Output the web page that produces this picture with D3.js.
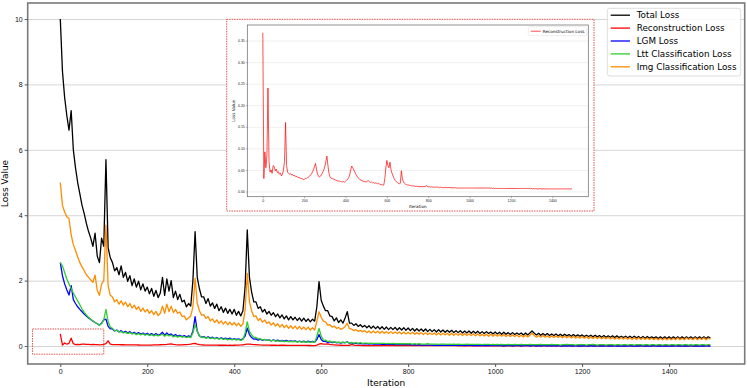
<!DOCTYPE html>
<html>
<head>
<meta charset="utf-8">
<script src="https://cdn.jsdelivr.net/npm/d3@7"></script>
<style>
  body { margin: 0; background: #fff; }
  svg { display: block; font-family: "DejaVu Sans", sans-serif; }
</style>
</head>
<body>
<svg id="chart" width="747" height="388"></svg>
<script>
// one value every 5 iterations, 0 .. 1495
var iterStep = 5;

var totalLoss = [
  10.0, 8.4, 7.6, 7.05, 6.6, 7.2, 6.0, 5.45, 5.0, 4.65, 4.3, 4.05, 3.75, 3.5, 3.3, 3.05, 3.45, 2.75, 2.55, 3.3,
  3.05, 5.7, 3.0, 2.7, 2.55, 2.3, 2.4, 2.18, 2.45, 2.1, 2.25, 1.98, 2.15, 1.85, 2.05, 1.8, 1.98, 1.72, 1.9, 1.68,
  1.8, 1.6, 1.76, 1.52, 1.7, 1.48, 1.62, 2.1, 1.55, 2.05, 1.68, 2.0, 1.48, 1.68, 1.42, 1.58, 1.35, 1.4, 1.2, 1.3,
  1.22, 2.0, 3.5, 2.1, 1.75, 1.5, 1.5, 1.3, 1.45, 1.22, 1.32, 1.15, 1.28, 1.08, 1.2, 1.03, 1.16, 1.0, 1.12, 0.98,
  1.12, 0.94, 1.06, 0.92, 1.08, 1.8, 3.55, 2.1, 1.65, 1.35, 1.35, 1.15, 1.2, 1.04, 1.12, 0.98, 1.06, 0.94, 1.02, 0.9,
  0.98, 0.86, 0.95, 0.83, 0.92, 0.8, 0.9, 0.8, 0.88, 0.78, 0.86, 0.76, 0.85, 0.75, 0.83, 0.74, 0.82, 0.76, 1.2, 1.97,
  1.4, 1.22, 1.08, 1.08, 0.92, 0.9, 0.77, 0.86, 0.72, 0.8, 0.7, 0.86, 1.05, 0.7, 0.7, 0.63, 0.68, 0.6, 0.65, 0.58,
  0.63, 0.56, 0.62, 0.54, 0.61, 0.53, 0.6, 0.52, 0.59, 0.51, 0.58, 0.5, 0.57, 0.5, 0.57, 0.49, 0.56, 0.49, 0.56, 0.48,
  0.55, 0.47, 0.54, 0.46, 0.53, 0.46, 0.52, 0.45, 0.52, 0.44, 0.51, 0.44, 0.5, 0.43, 0.5, 0.43, 0.49, 0.42, 0.48, 0.42,
  0.48, 0.41, 0.47, 0.41, 0.47, 0.4, 0.46, 0.4, 0.46, 0.39, 0.45, 0.39, 0.45, 0.38, 0.44, 0.38, 0.44, 0.38, 0.43, 0.37,
  0.43, 0.37, 0.42, 0.36, 0.42, 0.36, 0.41, 0.35, 0.41, 0.35, 0.4, 0.35, 0.4, 0.34, 0.4, 0.34, 0.4, 0.46, 0.39, 0.34,
  0.39, 0.33, 0.38, 0.33, 0.38, 0.32, 0.37, 0.32, 0.37, 0.31, 0.36, 0.31, 0.36, 0.31, 0.35, 0.3, 0.35, 0.3, 0.34, 0.3,
  0.34, 0.29, 0.33, 0.29, 0.33, 0.28, 0.33, 0.28, 0.32, 0.27, 0.32, 0.27, 0.31, 0.27, 0.31, 0.26, 0.31, 0.26, 0.3, 0.26,
  0.3, 0.25, 0.3, 0.25, 0.3, 0.25, 0.29, 0.24, 0.29, 0.24, 0.29, 0.24, 0.28, 0.24, 0.28, 0.23, 0.28, 0.23, 0.28, 0.23,
  0.28, 0.23, 0.28, 0.23, 0.28, 0.23, 0.28, 0.23, 0.28, 0.23, 0.28, 0.23, 0.28, 0.23, 0.28, 0.23, 0.28, 0.23, 0.28, 0.24
];

var reconLoss = [
  0.368, 0.03, 0.092, 0.055, 0.085, 0.24, 0.07, 0.045, 0.05, 0.042, 0.06, 0.058, 0.048, 0.052, 0.044, 0.046, 0.04, 0.043, 0.036, 0.04,
  0.05, 0.07, 0.16, 0.06, 0.045, 0.042, 0.04, 0.041, 0.038, 0.039, 0.036, 0.037, 0.034, 0.035, 0.032, 0.033, 0.031, 0.03, 0.03, 0.028,
  0.028, 0.03, 0.03, 0.032, 0.033, 0.035, 0.038, 0.04, 0.045, 0.05, 0.058, 0.065, 0.05, 0.04, 0.035, 0.034, 0.036, 0.04, 0.045, 0.05,
  0.058, 0.07, 0.082, 0.06, 0.042, 0.034, 0.031, 0.03, 0.029, 0.028, 0.027, 0.026, 0.025, 0.024, 0.024, 0.023, 0.023, 0.022, 0.023, 0.022,
  0.024, 0.026, 0.028, 0.032, 0.038, 0.05, 0.059, 0.055, 0.05, 0.045, 0.04, 0.036, 0.032, 0.03, 0.028, 0.026, 0.025, 0.024, 0.023, 0.023,
  0.022, 0.024, 0.025, 0.023, 0.021, 0.022, 0.02, 0.021, 0.019, 0.02, 0.019, 0.018, 0.019, 0.017, 0.016, 0.016, 0.015, 0.015, 0.03, 0.055,
  0.072, 0.06, 0.055, 0.068, 0.05, 0.042, 0.036, 0.03, 0.026, 0.023, 0.021, 0.019, 0.018, 0.019, 0.048, 0.03, 0.022, 0.019, 0.017, 0.016,
  0.015, 0.015, 0.014, 0.014, 0.013, 0.013, 0.013, 0.012, 0.012, 0.012, 0.012, 0.011, 0.011, 0.012, 0.011, 0.011, 0.012, 0.011, 0.014, 0.012,
  0.011, 0.011, 0.01, 0.011, 0.01, 0.01, 0.01, 0.01, 0.01, 0.01, 0.01, 0.009, 0.01, 0.009, 0.009, 0.009, 0.009, 0.009, 0.009, 0.009,
  0.009, 0.009, 0.009, 0.008, 0.009, 0.008, 0.009, 0.008, 0.008, 0.008, 0.008, 0.008, 0.008, 0.008, 0.008, 0.008, 0.008, 0.008, 0.008, 0.008,
  0.008, 0.008, 0.008, 0.008, 0.008, 0.008, 0.008, 0.008, 0.008, 0.008, 0.008, 0.008, 0.008, 0.008, 0.008, 0.008, 0.008, 0.008, 0.008, 0.008,
  0.008, 0.008, 0.007, 0.008, 0.007, 0.007, 0.007, 0.007, 0.007, 0.007, 0.007, 0.007, 0.007, 0.007, 0.007, 0.007, 0.007, 0.007, 0.007, 0.007,
  0.007, 0.007, 0.007, 0.007, 0.007, 0.007, 0.007, 0.007, 0.007, 0.007, 0.007, 0.007, 0.007, 0.007, 0.007, 0.007, 0.007, 0.007, 0.007, 0.007,
  0.007, 0.006, 0.007, 0.006, 0.007, 0.006, 0.006, 0.006, 0.007, 0.006, 0.006, 0.006, 0.006, 0.006, 0.006, 0.006, 0.006, 0.006, 0.006, 0.006,
  0.006, 0.006, 0.006, 0.006, 0.006, 0.006, 0.006, 0.006, 0.006, 0.006, 0.006, 0.006, 0.006, 0.006, 0.006, 0.006, 0.006, 0.006, 0.006, 0.006
];

var lgmLoss = [
  2.55, 2.15, 1.9, 1.72, 1.56, 1.85, 1.42, 1.3, 1.2, 1.12, 1.05, 0.98, 0.92, 0.86, 0.81, 0.76, 0.72, 0.68, 0.64, 0.7,
  0.8, 0.82, 0.6, 0.53, 0.52, 0.46, 0.49, 0.43, 0.47, 0.41, 0.45, 0.4, 0.44, 0.38, 0.42, 0.37, 0.41, 0.36, 0.4, 0.35,
  0.39, 0.34, 0.38, 0.33, 0.38, 0.33, 0.36, 0.42, 0.33, 0.4, 0.34, 0.37, 0.31, 0.35, 0.3, 0.33, 0.29, 0.32, 0.28, 0.31,
  0.28, 0.45, 0.9, 0.45, 0.31, 0.27, 0.29, 0.25, 0.28, 0.24, 0.27, 0.23, 0.26, 0.22, 0.25, 0.22, 0.24, 0.21, 0.24, 0.2,
  0.23, 0.2, 0.22, 0.19, 0.22, 0.3, 0.55, 0.35, 0.26, 0.21, 0.22, 0.18, 0.21, 0.17, 0.2, 0.17, 0.19, 0.16, 0.19, 0.16,
  0.18, 0.15, 0.17, 0.15, 0.17, 0.14, 0.16, 0.14, 0.16, 0.13, 0.15, 0.13, 0.15, 0.12, 0.15, 0.12, 0.14, 0.12, 0.2, 0.35,
  0.2, 0.14, 0.14, 0.11, 0.13, 0.1, 0.12, 0.1, 0.11, 0.09, 0.11, 0.1, 0.13, 0.08, 0.1, 0.07, 0.09, 0.07, 0.08, 0.07,
  0.07, 0.07, 0.06, 0.07, 0.06, 0.06, 0.06, 0.06, 0.05, 0.06, 0.05, 0.05, 0.05, 0.05, 0.04, 0.05, 0.04, 0.05, 0.04, 0.04,
  0.04, 0.04, 0.03, 0.04, 0.03, 0.04, 0.03, 0.03, 0.03, 0.03, 0.03, 0.03, 0.02, 0.03, 0.02, 0.03, 0.02, 0.03, 0.02, 0.02,
  0.02, 0.03, 0.02, 0.02, 0.02, 0.02, 0.01, 0.02, 0.02, 0.02, 0.01, 0.02, 0.01, 0.02, 0.01, 0.02, 0.01, 0.01, 0.01, 0.02,
  0.01, 0.02, 0.01, 0.01, 0.0, 0.01, 0.01, 0.02, 0.0, 0.01, 0.01, 0.01, 0.0, 0.01, 0.01, 0.02, 0.0, 0.01, 0.01, 0.0,
  0.01, 0.0, 0.01, 0.01, 0.0, 0.01, 0.0, 0.01, 0.0, 0.01, 0.0, 0.0, 0.01, 0.0, 0.01, 0.0, 0.0, 0.01, 0.0, 0.0,
  0.0, 0.01, 0.0, 0.0, 0.01, 0.0, 0.0, 0.01, 0.0, 0.0, 0.0, 0.01, 0.0, 0.0, 0.0, 0.01, 0.0, 0.0, 0.0, 0.0,
  0.0, 0.0, 0.01, 0.0, 0.0, 0.0, 0.0, 0.01, 0.0, 0.0, 0.0, 0.0, 0.0, 0.01, 0.0, 0.0, 0.0, 0.0, 0.0, 0.0,
  0.0, 0.0, 0.0, 0.01, 0.0, 0.0, 0.0, 0.0, 0.0, 0.0, 0.01, 0.0, 0.0, 0.0, 0.0, 0.0, 0.0, 0.01, 0.0, 0.0
];

var lttLoss = [
  2.55, 2.45, 2.25, 2.05, 1.9, 1.76, 1.62, 1.5, 1.38, 1.26, 1.13, 1.03, 0.95, 0.88, 0.82, 0.76, 0.72, 0.68, 0.64, 0.68,
  0.8, 1.12, 0.75, 0.58, 0.54, 0.47, 0.48, 0.43, 0.44, 0.4, 0.42, 0.38, 0.41, 0.37, 0.39, 0.35, 0.38, 0.34, 0.37, 0.33,
  0.36, 0.32, 0.35, 0.31, 0.34, 0.31, 0.33, 0.36, 0.3, 0.35, 0.31, 0.33, 0.28, 0.31, 0.27, 0.3, 0.27, 0.29, 0.26, 0.28,
  0.26, 0.4, 0.65, 0.45, 0.31, 0.26, 0.27, 0.24, 0.26, 0.23, 0.25, 0.22, 0.24, 0.21, 0.23, 0.2, 0.22, 0.19, 0.21, 0.19,
  0.21, 0.18, 0.2, 0.17, 0.2, 0.4, 0.74, 0.45, 0.34, 0.27, 0.26, 0.22, 0.22, 0.19, 0.2, 0.17, 0.19, 0.16, 0.18, 0.15,
  0.16, 0.14, 0.16, 0.13, 0.15, 0.13, 0.14, 0.13, 0.14, 0.12, 0.14, 0.12, 0.13, 0.12, 0.13, 0.11, 0.13, 0.11, 0.3, 0.54,
  0.3, 0.19, 0.18, 0.14, 0.15, 0.12, 0.13, 0.11, 0.12, 0.1, 0.12, 0.1, 0.12, 0.09, 0.11, 0.09, 0.1, 0.08, 0.1, 0.08,
  0.09, 0.09, 0.08, 0.09, 0.08, 0.08, 0.08, 0.08, 0.08, 0.08, 0.07, 0.08, 0.07, 0.08, 0.07, 0.07, 0.07, 0.07, 0.07, 0.07,
  0.07, 0.07, 0.06, 0.07, 0.06, 0.07, 0.06, 0.06, 0.06, 0.07, 0.06, 0.06, 0.06, 0.06, 0.05, 0.06, 0.06, 0.06, 0.05, 0.06,
  0.05, 0.06, 0.05, 0.06, 0.05, 0.05, 0.05, 0.06, 0.05, 0.05, 0.05, 0.05, 0.05, 0.05, 0.04, 0.05, 0.05, 0.05, 0.04, 0.05,
  0.04, 0.05, 0.04, 0.05, 0.04, 0.04, 0.05, 0.04, 0.04, 0.05, 0.04, 0.04, 0.05, 0.04, 0.04, 0.04, 0.05, 0.04, 0.04, 0.04,
  0.04, 0.05, 0.04, 0.04, 0.04, 0.04, 0.05, 0.04, 0.04, 0.04, 0.03, 0.04, 0.04, 0.05, 0.04, 0.04, 0.04, 0.03, 0.04, 0.04,
  0.04, 0.04, 0.03, 0.04, 0.04, 0.05, 0.04, 0.03, 0.04, 0.04, 0.04, 0.03, 0.04, 0.04, 0.04, 0.03, 0.04, 0.04, 0.03, 0.04,
  0.04, 0.03, 0.04, 0.04, 0.03, 0.04, 0.04, 0.04, 0.03, 0.04, 0.04, 0.03, 0.04, 0.04, 0.03, 0.04, 0.04, 0.03, 0.04, 0.04,
  0.03, 0.04, 0.04, 0.03, 0.04, 0.04, 0.03, 0.04, 0.04, 0.03, 0.04, 0.03, 0.04, 0.04, 0.03, 0.04, 0.04, 0.03, 0.04, 0.04
];

var imgLoss = [
  5.0, 4.3, 4.1, 3.95, 3.9, 3.4, 3.1, 2.92, 2.72, 2.55, 2.42, 2.3, 2.18, 2.1, 2.02, 1.95, 2.17, 1.7, 1.55, 1.9,
  2.0, 3.7, 1.85, 1.55, 1.5, 1.35, 1.42, 1.28, 1.38, 1.25, 1.34, 1.2, 1.3, 1.16, 1.25, 1.12, 1.2, 1.06, 1.16, 1.04,
  1.12, 1.0, 1.08, 0.96, 1.06, 0.93, 1.0, 1.22, 1.0, 1.28, 1.05, 1.22, 1.02, 1.12, 1.0, 1.04, 0.9, 0.92, 0.8, 0.86,
  0.92, 1.2, 2.07, 1.3, 1.08, 0.94, 0.96, 0.84, 0.9, 0.77, 0.83, 0.72, 0.8, 0.69, 0.77, 0.67, 0.75, 0.65, 0.73, 0.64,
  0.72, 0.62, 0.7, 0.6, 0.68, 1.1, 2.22, 1.35, 1.08, 0.9, 0.92, 0.78, 0.84, 0.73, 0.8, 0.69, 0.74, 0.64, 0.71, 0.61,
  0.68, 0.58, 0.66, 0.56, 0.64, 0.54, 0.62, 0.53, 0.61, 0.52, 0.6, 0.51, 0.58, 0.5, 0.58, 0.49, 0.56, 0.49, 0.75, 1.05,
  0.88, 0.76, 0.74, 0.64, 0.65, 0.58, 0.61, 0.54, 0.57, 0.51, 0.54, 0.6, 0.69, 0.53, 0.52, 0.47, 0.5, 0.45, 0.48, 0.44,
  0.47, 0.41, 0.46, 0.4, 0.46, 0.4, 0.45, 0.39, 0.45, 0.39, 0.44, 0.38, 0.44, 0.38, 0.43, 0.38, 0.43, 0.37, 0.43, 0.37,
  0.42, 0.37, 0.42, 0.36, 0.41, 0.36, 0.41, 0.35, 0.41, 0.35, 0.4, 0.35, 0.4, 0.34, 0.4, 0.34, 0.39, 0.34, 0.39, 0.33,
  0.39, 0.33, 0.38, 0.33, 0.38, 0.32, 0.38, 0.32, 0.37, 0.32, 0.37, 0.31, 0.37, 0.31, 0.36, 0.31, 0.36, 0.3, 0.36, 0.3,
  0.35, 0.3, 0.35, 0.3, 0.35, 0.29, 0.34, 0.29, 0.34, 0.29, 0.34, 0.28, 0.33, 0.28, 0.33, 0.28, 0.33, 0.39, 0.32, 0.27,
  0.32, 0.27, 0.32, 0.27, 0.31, 0.26, 0.31, 0.26, 0.31, 0.26, 0.3, 0.25, 0.3, 0.25, 0.3, 0.25, 0.29, 0.24, 0.29, 0.24,
  0.29, 0.24, 0.28, 0.23, 0.28, 0.23, 0.28, 0.23, 0.27, 0.22, 0.27, 0.22, 0.27, 0.22, 0.26, 0.21, 0.26, 0.21, 0.26, 0.21,
  0.26, 0.21, 0.25, 0.2, 0.25, 0.2, 0.25, 0.2, 0.25, 0.2, 0.24, 0.2, 0.24, 0.19, 0.24, 0.19, 0.24, 0.19, 0.24, 0.19,
  0.24, 0.19, 0.24, 0.19, 0.25, 0.19, 0.24, 0.19, 0.25, 0.2, 0.24, 0.19, 0.25, 0.19, 0.24, 0.2, 0.25, 0.19, 0.24, 0.21
];

var seriesNames = ["Total Loss", "Reconstruction Loss", "LGM Loss", "Ltt Classification Loss", "Img Classification Loss"];
var seriesColors = ["black", "red", "blue", "limegreen", "darkorange"];
var seriesValues = [totalLoss, reconLoss, lgmLoss, lttLoss, imgLoss];

var xTicks = [0, 200, 400, 600, 800, 1000, 1200, 1400];
var yTicks = [0, 2, 4, 6, 8, 10];
var insetYTicks = [0, 0.05, 0.10, 0.15, 0.20, 0.25, 0.30, 0.35];

// highlighted region of the early reconstruction loss (data units)
var zoomRegion = {x0: -64, x1: 100, y0: -0.25, y1: 0.52};

// set the dimensions and margins of the graph
var margin = {top: 3, right: 2.3, bottom: 24, left: 27.7},
    width = 747 - margin.left - margin.right,
    height = 388 - margin.top - margin.bottom;

var svg = d3.select("#chart")
  .append("g")
    .attr("transform", "translate(" + margin.left + "," + margin.top + ")");

var x = d3.scaleLinear().domain([-74.95, 1573.95]).range([0, width]);
var y = d3.scaleLinear().domain([-0.55, 10.49]).range([height, 0]);

// horizontal grid
svg.append("g")
  .call(d3.axisLeft(y).tickValues(yTicks).tickSize(-width).tickFormat(""))
  .call(function(g) { g.select(".domain").remove(); })
  .selectAll("line")
    .attr("stroke", "#d0d0d0")
    .attr("stroke-width", 0.9);

var line = d3.line()
  .x(function(d, i) { return x(i * iterStep); })
  .y(function(d) { return y(d); });

// curves, in legend order (orange ends on top)
seriesValues.forEach(function(vals, k) {
  svg.append("path")
    .datum(vals)
    .attr("fill", "none")
    .attr("stroke", seriesColors[k])
    .attr("stroke-width", 1.3)
    .attr("stroke-linejoin", "round")
    .attr("d", line);
});

// dotted box around the early reconstruction loss
svg.append("rect")
  .attr("x", x(zoomRegion.x0))
  .attr("y", y(zoomRegion.y1))
  .attr("width", x(zoomRegion.x1) - x(zoomRegion.x0))
  .attr("height", y(zoomRegion.y0) - y(zoomRegion.y1))
  .attr("fill", "none")
  .attr("stroke", "#e04040")
  .attr("stroke-width", 0.9)
  .attr("stroke-dasharray", "1.5,1");

// spines
svg.append("rect")
  .attr("width", width)
  .attr("height", height)
  .attr("fill", "none")
  .attr("stroke", "#7a7a7a")
  .attr("stroke-width", 1.6);

// X axis
var gx = svg.append("g")
  .attr("transform", "translate(0," + height + ")")
  .call(d3.axisBottom(x).tickValues(xTicks).tickSize(3).tickPadding(2).tickFormat(d3.format("d")));
gx.select(".domain").remove();
gx.selectAll(".tick line").attr("stroke", "#555");
gx.selectAll("text").style("font-size", "7px").style("fill", "#111");

// Y axis
var gy = svg.append("g")
  .call(d3.axisLeft(y).tickValues(yTicks).tickSize(3).tickPadding(2).tickFormat(d3.format("d")));
gy.select(".domain").remove();
gy.selectAll(".tick line").attr("stroke", "#555");
gy.selectAll("text").style("font-size", "7px").style("fill", "#111");

// axis labels
svg.append("text")
  .attr("x", width / 2)
  .attr("y", height + 22)
  .attr("text-anchor", "middle")
  .style("font-size", "9px")
  .text("Iteration");

svg.append("text")
  .attr("transform", "translate(" + (5 - margin.left + 3) + "," + (height / 2) + ")rotate(-90)")
  .attr("text-anchor", "middle")
  .style("font-size", "9px")
  .text("Loss Value");

// legend
var legend = svg.append("g")
  .attr("transform", "translate(" + (607.3 - margin.left) + "," + (8.3 - margin.top) + ")");
legend.append("rect")
  .attr("width", 133.4)
  .attr("height", 67.7)
  .attr("rx", 2.5)
  .attr("fill", "white")
  .attr("fill-opacity", 0.85)
  .attr("stroke", "#d4d4d4")
  .attr("stroke-width", 0.8);
seriesNames.forEach(function(name, k) {
  var ry = 6.9 + k * 12.9;
  legend.append("line")
    .attr("x1", 3.4).attr("x2", 22.7)
    .attr("y1", ry).attr("y2", ry)
    .attr("stroke", seriesColors[k])
    .attr("stroke-width", 1.3);
  legend.append("text")
    .attr("x", 29.4)
    .attr("y", ry)
    .attr("dy", "0.35em")
    .style("font-size", "8.8px")
    .text(name);
});

// ---- inset: reconstruction loss alone ----
var frame = {left: 226.7, top: 19.3, right: 594, bottom: 211};
var inner = {left: 247.3, top: 25, right: 588.3, bottom: 196.7};

var inset = d3.select("#chart").append("g");

inset.append("rect")
  .attr("x", frame.left).attr("y", frame.top)
  .attr("width", frame.right - frame.left)
  .attr("height", frame.bottom - frame.top)
  .attr("fill", "white")
  .attr("stroke", "#e04040")
  .attr("stroke-width", 0.9)
  .attr("stroke-dasharray", "1.5,1");

var ix = d3.scaleLinear().domain([-74.95, 1573.95]).range([inner.left, inner.right]);
var iy = d3.scaleLinear().domain([-0.0121, 0.3861]).range([inner.bottom, inner.top]);

inset.append("g")
  .attr("transform", "translate(" + inner.left + ",0)")
  .call(d3.axisLeft(iy).tickValues(insetYTicks).tickSize(-(inner.right - inner.left)).tickFormat(""))
  .call(function(g) { g.select(".domain").remove(); })
  .selectAll("line")
    .attr("stroke", "#e4e4e4")
    .attr("stroke-width", 0.6);

var insetLine = d3.line()
  .x(function(d, i) { return ix(i * iterStep); })
  .y(function(d) { return iy(d); });

inset.append("path")
  .datum(reconLoss)
  .attr("fill", "none")
  .attr("stroke", "red")
  .attr("stroke-width", 0.7)
  .attr("d", insetLine);

inset.append("rect")
  .attr("x", inner.left).attr("y", inner.top)
  .attr("width", inner.right - inner.left)
  .attr("height", inner.bottom - inner.top)
  .attr("fill", "none")
  .attr("stroke", "#666")
  .attr("stroke-width", 0.7);

var igx = inset.append("g")
  .attr("transform", "translate(0," + inner.bottom + ")")
  .call(d3.axisBottom(ix).tickValues(xTicks).tickSize(1.5).tickPadding(1).tickFormat(d3.format("d")));
igx.select(".domain").remove();
igx.selectAll(".tick line").attr("stroke", "#666").attr("stroke-width", 0.5);
igx.selectAll("text").style("font-size", "3.5px").style("fill", "#222");

var igy = inset.append("g")
  .attr("transform", "translate(" + inner.left + ",0)")
  .call(d3.axisLeft(iy).tickValues(insetYTicks).tickSize(1.5).tickPadding(1).tickFormat(d3.format(".2f")));
igy.select(".domain").remove();
igy.selectAll(".tick line").attr("stroke", "#666").attr("stroke-width", 0.5);
igy.selectAll("text").style("font-size", "3.5px").style("fill", "#222");

inset.append("text")
  .attr("x", (inner.left + inner.right) / 2)
  .attr("y", 207.5)
  .attr("text-anchor", "middle")
  .style("font-size", "4.2px")
  .text("Iteration");

inset.append("text")
  .attr("transform", "translate(" + 234.5 + "," + ((inner.top + inner.bottom) / 2) + ")rotate(-90)")
  .attr("text-anchor", "middle")
  .style("font-size", "4.2px")
  .text("Loss Value");

var ilegend = inset.append("g")
  .attr("transform", "translate(528.3,26.7)");
ilegend.append("rect")
  .attr("width", 58.4)
  .attr("height", 9)
  .attr("rx", 1)
  .attr("fill", "white")
  .attr("stroke", "#d4d4d4")
  .attr("stroke-width", 0.4);
ilegend.append("line")
  .attr("x1", 2.4).attr("x2", 12.4)
  .attr("y1", 4.5).attr("y2", 4.5)
  .attr("stroke", "red")
  .attr("stroke-width", 0.7);
ilegend.append("text")
  .attr("x", 14.4)
  .attr("y", 4.5)
  .attr("dy", "0.35em")
  .style("font-size", "4.2px")
  .text(seriesNames[1]);
</script>
</body>
</html>
